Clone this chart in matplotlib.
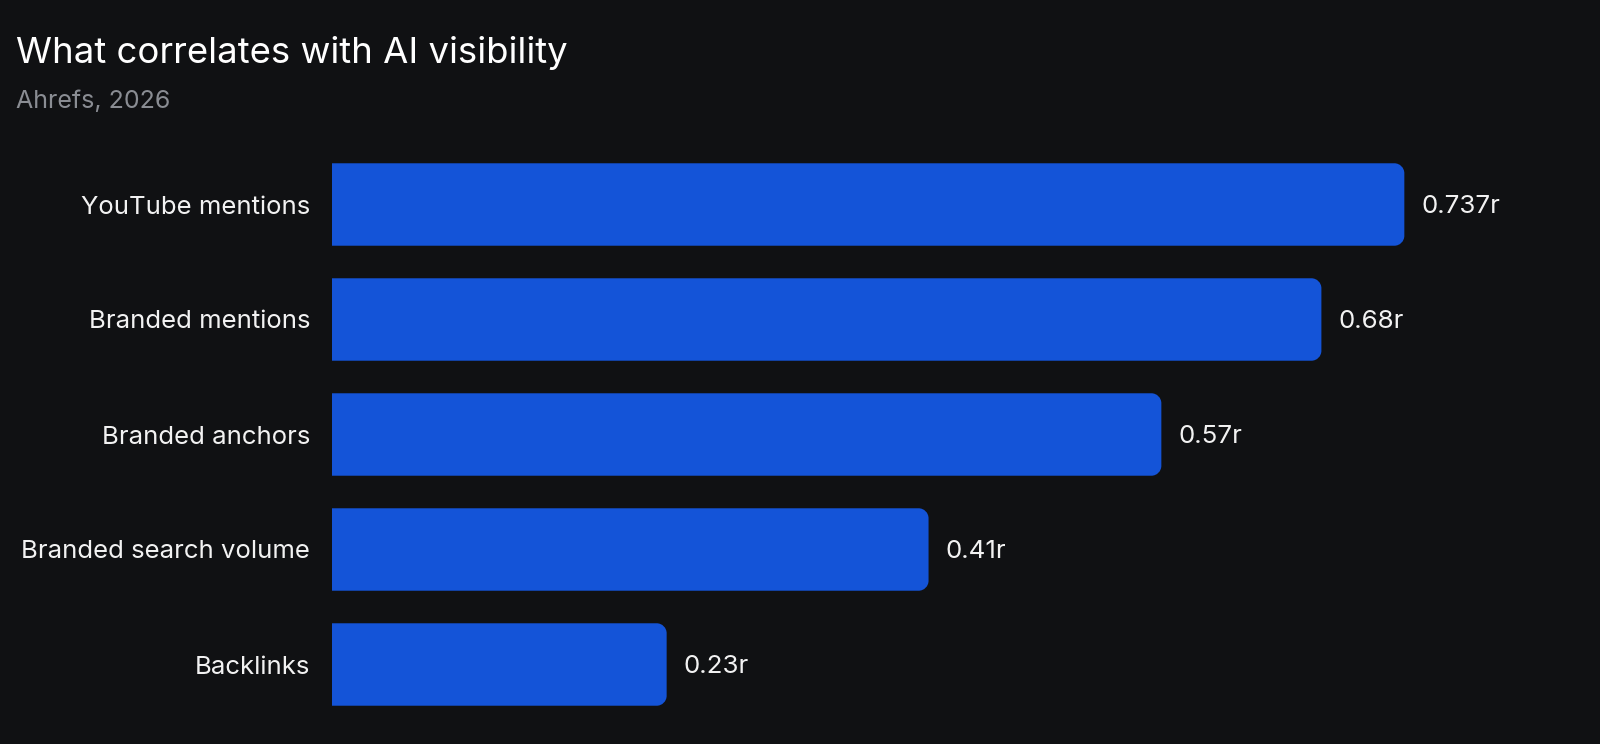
import matplotlib
matplotlib.use("Agg")
import matplotlib.pyplot as plt
from matplotlib.path import Path
from matplotlib.patches import PathPatch

categories = ["YouTube mentions", "Branded mentions", "Branded anchors",
              "Branded search volume", "Backlinks"]
values = [0.737, 0.68, 0.57, 0.41, 0.23]
value_labels = ["0.737r", "0.68r", "0.57r", "0.41r", "0.23r"]

BG = "#101113"
BAR = "#1454d8"
FONT = ["Inter", "DejaVu Sans"]
plt.rcParams["font.family"] = FONT

W, H, DPI = 1600, 744, 100
fig = plt.figure(figsize=(W / DPI, H / DPI), dpi=DPI, facecolor=BG)

left_px, top_px, bot_px = 332, 147, 722
xmax = 0.8
px_per_x = 1455.0
ax_w = xmax * px_per_x
ax = fig.add_axes([left_px / W, 1 - bot_px / H, ax_w / W, (bot_px - top_px) / H])
ax.set_facecolor(BG)
n = len(categories)
ax.set_xlim(0, xmax)
ax.set_ylim(n - 0.5, -0.5)
for s in ax.spines.values():
    s.set_visible(False)

bar_h = 0.717
px_per_y = (bot_px - top_px) / n
r_px = 10.0
rx = r_px / px_per_x
ry = r_px / px_per_y
k = 0.5523

def rounded_right(x0, x1, yc, h):
    y0, y1 = yc - h / 2, yc + h / 2
    verts = [
        (x0, y0), (x1 - rx, y0),
        (x1 - rx + k * rx, y0), (x1, y0 + ry - k * ry), (x1, y0 + ry),
        (x1, y1 - ry),
        (x1, y1 - ry + k * ry), (x1 - rx + k * rx, y1), (x1 - rx, y1),
        (x0, y1), (x0, y0),
    ]
    codes = [Path.MOVETO, Path.LINETO,
             Path.CURVE4, Path.CURVE4, Path.CURVE4,
             Path.LINETO,
             Path.CURVE4, Path.CURVE4, Path.CURVE4,
             Path.LINETO, Path.CLOSEPOLY]
    return Path(verts, codes)

for i, (v, lab) in enumerate(zip(values, value_labels)):
    ax.add_patch(PathPatch(rounded_right(0, v, i, bar_h), facecolor=BAR,
                           edgecolor="none"))
    ax.annotate(lab, xy=(v, i), xytext=(12.2, -1.2), textcoords="offset points",
                va="center", ha="left", color="#f2f2f2", fontsize=18.7)

ax.set_yticks(range(n))
ax.set_yticklabels(categories, color="#f2f2f2", fontsize=18.5)
ax.tick_params(axis="y", length=0, pad=15.8)
ax.set_xticks([])

fig.text(16 / W, 1 - 63 / H, "What correlates with AI visibility", color="#ffffff",
         fontsize=26.3, va="baseline", ha="left")
fig.text(16 / W, 1 - 108 / H, "Ahrefs, 2026", color="#8a8d93",
         fontsize=18, va="baseline", ha="left")

fig.savefig("out.png", dpi=DPI, facecolor=BG)
